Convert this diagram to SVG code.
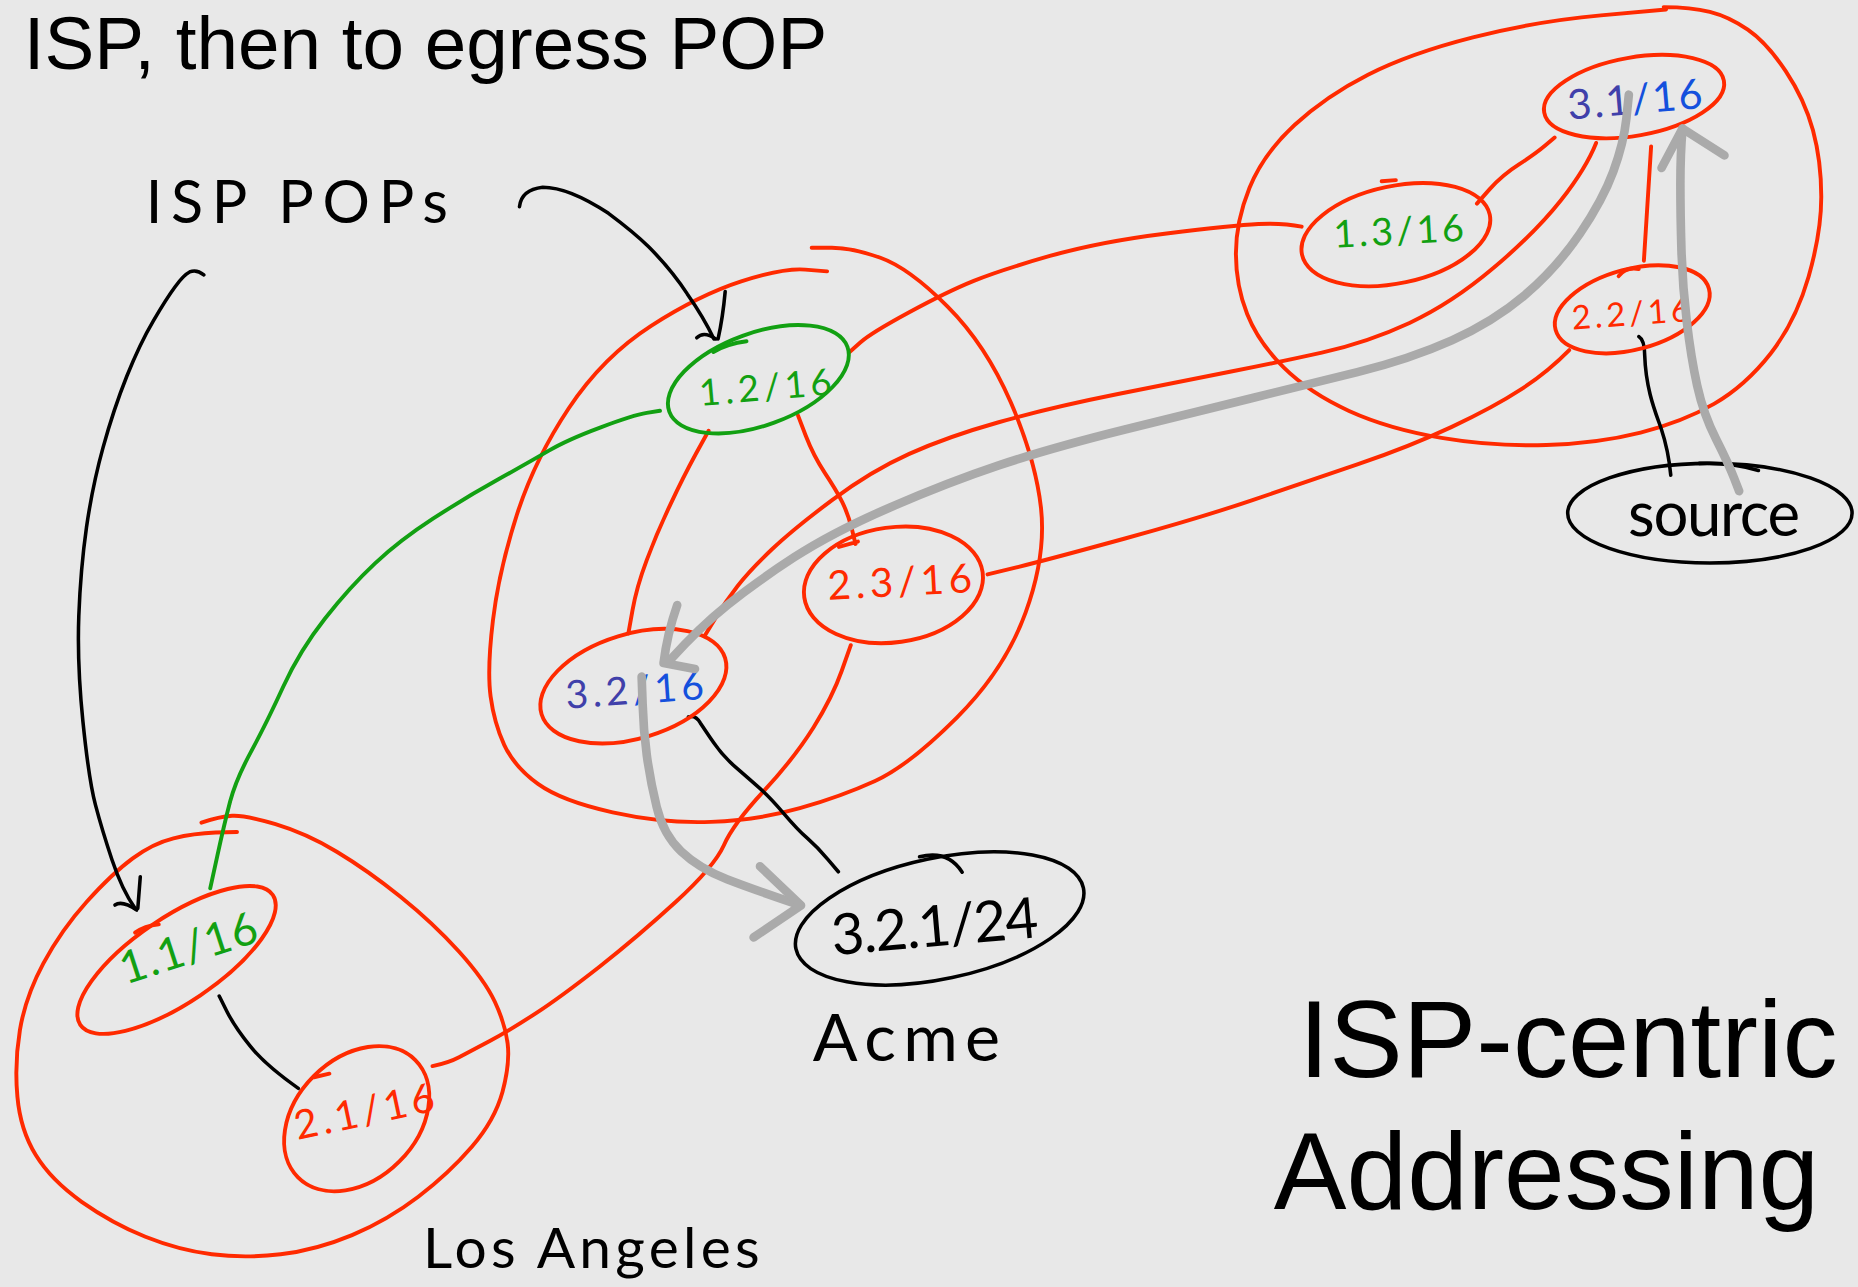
<svg xmlns="http://www.w3.org/2000/svg" width="1858" height="1287" viewBox="0 0 1858 1287">
  <style>
    .ln { fill: none; stroke-linecap: round; stroke-linejoin: round; stroke-width: 3.3; }
    .red { stroke: #ff2a00; }
    .grn { stroke: #12a012; }
    .blk { stroke: #000000; stroke-width: 3; }
    .flow { fill: none; stroke: #aaaaaa; stroke-width: 7.3; stroke-linecap: round; stroke-linejoin: round; }
    .hand { font-family: Lato, "Open Sans", "DejaVu Sans", sans-serif; font-weight: 400; }
    .print { font-family: "Liberation Sans", Arial, sans-serif; fill: #000000; }
    .tr { fill: #ff2a00; }
    .tg { fill: #12a012; }
    .tb { fill: #4040aa; }
    .tb2 { fill: #1450dd; }
    .tk { fill: #000000; }
  </style>
  <rect width="1858" height="1287" fill="#e8e8e8"/>
  <g transform="scale(1.18495,1.18508)">
    <!-- headings -->
    <text class="print" x="20" y="58" font-size="63">ISP, then to egress POP</text>
    <text class="print" x="1096" y="908.6" font-size="93">ISP-centric</text>
    <text class="print" x="1075" y="1020.5" font-size="92">Addressing</text>

    <!-- ISP regions (hand-drawn loops) -->
    <g id="region-los-angeles">
      <path class="ln red" d="M200,702 L182,702.5 Q163.6,703.2 146.4,707.4 Q129.2,711.6 112,724.3 Q94.7,737 73.2,760.9 Q51.7,784.8 36.6,812.9 Q21.5,841 16.8,869.2 Q12.1,897.3 14.7,925.5 Q17.2,953.6 30.2,974.7 Q43.1,995.8 68.9,1014.1 Q94.7,1032.3 122.7,1043.6 Q150.7,1054.8 178.7,1058.4 Q206.6,1061.9 236.8,1058.4 Q266.9,1054.8 297.1,1042.2 Q327.2,1029.5 353,1009.8 Q378.8,990.1 398.2,967.6 Q417.6,945.1 424.1,921.2 Q430.5,897.3 428.4,880.5 Q426.2,863.6 417.6,845.3 Q409,827 387.5,803.1 Q365.9,779.2 338,756.7 Q310,734.2 284.2,718.7 Q258.3,703.2 232.5,695.5 Q206.6,687.7 195.9,688.4 Q185.1,689.1 170,694.2"/>
      <text class="hand tk" x="357" y="1070" font-size="48" textLength="284">Los Angeles</text>
    </g>
    <g id="region-middle">
      <path class="ln red" d="M698,229 L679.5,227.5 Q661,226 625.5,237.5 Q590,249 549.5,275 Q509,301 480,344.5 Q451,388 436,435 Q421,482 416,523.5 Q411,565 414,587.5 Q417,610 425.5,628.5 Q434,647 454,661.5 Q474,676 517,685.5 Q560,695 600,693.5 Q640,692 675,682 Q710,672 738.5,659 Q767,646 807.5,605.5 Q848,565 865.5,517 Q883,469 878.5,428.5 Q874,388 853,339.5 Q832,291 799.5,258.5 Q767,226 743,217.5 Q719,209 702,209 L685,209"/>
    </g>
    <g id="region-east">
      <path class="ln red" d="M1406,8 L1351,13 Q1296,18 1243,31.5 Q1190,45 1154.5,63 Q1119,81 1092.5,105.5 Q1066,130 1054.5,158.5 Q1043,187 1043,214 Q1043,241 1052.5,265 Q1062,289 1083.5,310.3 Q1105,331.5 1138.5,346.8 Q1172,362 1216.5,369.5 Q1261,377 1305,375.5 Q1349,374 1384.5,365 Q1420,356 1446.5,340.8 Q1473,325.5 1494.3,298.3 Q1515.5,271 1526.3,233.5 Q1537,196 1537,166 Q1537,136 1530,110 Q1523,84 1507,60 Q1491,36 1475,25 Q1459,14 1443,10 Q1427,6 1404,6"/>
    </g>

    <!-- links between POPs and to the customer -->
    <g id="connectors">
      <path class="ln red" d="M717,297 L726,289 Q735,281 767.3,263.5 Q799.5,246 821.8,237 Q844,228 886,216 Q928,204 984.5,197 Q1041,190 1062,189 Q1083,188 1098.5,191.3"/>
      <path class="ln red" d="M595,536 L603.5,522 Q612,508 622.5,494.5 Q633,481 651.5,463.5 Q670,446 702.5,421.8 Q735,397.5 767.3,383 Q799.5,368.5 842.8,356.3 Q886,344 943.5,332.5 Q1001,321 1039,313.5 Q1077,306 1115.5,297.5 Q1154,289 1189.5,272.5 Q1225,256 1260.5,226 Q1296,196 1317.3,169 Q1338.5,142 1347,120.6"/>
      <path class="ln red" d="M598,363.5 L587.3,382.9 Q576.7,402.3 565.5,426.2 Q554.2,450.1 545.8,472.6 Q537.3,495.1 533.8,514.8 L530.3,534.5"/>
      <path class="ln red" d="M673.5,350.7 L680,367.7 Q686.5,384.6 696.2,399.2 Q705.8,413.7 710.7,423.4 Q715.5,433.1 718.8,446 L722,459 M708,461.5 L724,457"/>
      <path class="ln red" d="M833.4,484.7 L859.7,478.3 Q886,471.8 949.4,454.4 Q1012.7,437 1057,422 Q1101.2,406.9 1145.5,391.9 Q1189.8,376.8 1225.2,360.2 Q1260.6,343.6 1283.6,328.6 Q1306.6,313.5 1324.3,295.4"/>
      <path class="ln red" d="M718,544.4 L710.3,566.2 Q702.6,588 686.5,613.9 Q670.3,639.7 644.7,667.4 Q619,695 610.9,713.2 Q602.7,731.3 570.4,760.9 Q538.1,790.4 505.9,815.7 Q473.6,841 452.1,855.1 Q430.5,869.2 413.3,878.4 Q396,887.5 387.4,892.1 Q378.8,896.7 365,899.6"/>
      <path class="ln red" d="M1312,116 L1304,122.8 Q1296,129.6 1281.9,138.7 Q1267.7,147.7 1257,159.8 L1246.4,171.8"/>
      <path class="ln red" d="M1393.4,123.6 Q1390,175 1387.3,220"/>
      <path class="ln grn" d="M557,346.6 L545.8,348.4 Q534.5,350.2 506.4,360.8 Q478.2,371.3 462.8,380.5 Q447.3,389.6 420.6,404.4 Q393.8,419.2 365.7,437.5 Q337.6,455.7 316.5,475.4 Q295.4,495.1 274.3,521.9 Q253.2,548.6 239.1,579.3 Q225,610 212,634 Q199,658 194.2,676.4 Q189.4,694.8 183.4,722.2 L177.4,749.6"/>
      <path class="ln blk" d="M581,605 Q587,603 591,610 Q595,616 602.5,627 Q610,638 621.5,648 Q633,658 641.5,665.5 Q650,673 661.5,686.5 Q673,700 681.5,707.5 Q690,715 698.8,725.3 L707.5,735.6"/>
      <path class="ln blk" d="M185,840.5 L191.5,853.5 Q198,866.4 211,882.6 Q223.9,898.7 251.8,918.4"/>
      <path class="ln blk" d="M1383,284 Q1388,287 1388,300 C1389,330 1398,350 1402,362 Q1408,380 1410,401"/>
    </g>

    <!-- ISP POPs annotation -->
    <g id="annotation-pops">
      <text class="hand tk" x="123" y="188" font-size="50" textLength="255">ISP POPs</text>
      <path class="ln blk" d="M438.4,174.4 Q440,160 458,158 Q480,158 513.5,180 Q535,196 547.4,208.2 Q567,228 580,248 Q594,268 602.5,286"/>
      <path class="ln blk" d="M612,246 Q610,268 606,286 M588,285 Q594,279 604,286"/>
      <path class="ln blk" d="M172,232 Q166,227 160,229.5 Q155,232 147.8,241.9 Q140.5,251.7 129.3,270.9 Q118,290 107,317.5 Q96,345 87,377.5 Q78,410 73,445 Q68,480 66.5,520 Q65,560 70,609 Q75,658 80.5,679 Q86,700 94.5,725.5 Q103,751 114,766.5"/>
      <path class="ln blk" d="M118.4,739.8 L116.3,766.5 M97,763.7 Q103,759.5 115.4,767.9"/>
    </g>

    <!-- POP nodes -->
    <g id="node-1-1">
      <ellipse class="ln red" cx="149" cy="810" rx="98" ry="36" transform="rotate(-34 149 810)"/>
      <path class="ln red" d="M114,787 Q122,781 134,780"/>
      <text class="hand tg" x="106" y="831" font-size="38" textLength="120" transform="rotate(-18 106 831)">1.1/16</text>
    </g>
    <g id="node-2-1">
      <ellipse class="ln red" cx="301" cy="944" rx="70" ry="51" transform="rotate(-45 301 944)"/>
      <path class="ln red" d="M265,909 L278,906"/>
      <text class="hand tr" x="251" y="962" font-size="34" textLength="120" transform="rotate(-12 251 962)">2.1/16</text>
    </g>
    <g id="node-1-2">
      <ellipse class="ln grn" cx="640" cy="320" rx="80" ry="39" transform="rotate(-20 640 320)"/>
      <path class="ln grn" d="M602,297 Q614,290 630,288"/>
      <text class="hand tg" x="591" y="342.6" font-size="31" textLength="112" transform="rotate(-5 591 342.6)">1.2/16</text>
    </g>
    <g id="node-2-3">
      <ellipse class="ln red" cx="754" cy="493.5" rx="76" ry="48.5" transform="rotate(-8 754 493.5)"/>
      <text class="hand tr" x="699" y="506" font-size="34" textLength="122" transform="rotate(-3 699 506)">2.3/16</text>
    </g>
    <g id="node-3-2">
      <ellipse class="ln red" cx="534.5" cy="579" rx="81" ry="44" transform="rotate(-17 534.5 579)"/>
      <text class="hand" x="478" y="598" font-size="33" textLength="117" transform="rotate(-4 478 598)"><tspan class="tb">3.2</tspan><tspan class="tb2">/16</tspan></text>
    </g>
    <g id="node-1-3">
      <ellipse class="ln red" cx="1178" cy="198" rx="81" ry="41" transform="rotate(-12 1178 198)"/>
      <path class="ln red" d="M1166,153 L1178,152"/>
      <text class="hand tg" x="1126" y="209" font-size="32" textLength="110" transform="rotate(-3 1126 209)">1.3/16</text>
    </g>
    <g id="node-3-1">
      <ellipse class="ln red" cx="1379" cy="81.5" rx="77" ry="33" transform="rotate(-10 1379 81.5)"/>
      <text class="hand" x="1324" y="101" font-size="35" textLength="114" transform="rotate(-5 1324 101)"><tspan class="tb">3.1</tspan><tspan class="tb2">/16</tspan></text>
    </g>
    <g id="node-2-2">
      <ellipse class="ln red" cx="1377.5" cy="261" rx="67" ry="34" transform="rotate(-15 1377.5 261)"/>
      <path class="ln red" d="M1366,233 Q1372,225 1383,227"/>
      <text class="hand tr" x="1327" y="278" font-size="28" textLength="100" transform="rotate(-4 1327 278)">2.2/16</text>
    </g>

    <!-- customer and traffic source -->
    <g id="node-acme">
      <ellipse class="ln blk" cx="793" cy="775" rx="124" ry="51" transform="rotate(-12 793 775)"/>
      <path class="ln blk" d="M776,723 Q800,717 812,736"/>
      <text class="hand tk" x="703" y="806" font-size="48" textLength="175" transform="rotate(-5 703 806)">3.2.1/24</text>
      <text class="hand tk" x="686" y="895" font-size="56" textLength="158">Acme</text>
    </g>
    <g id="node-source">
      <ellipse class="ln blk" cx="1443" cy="433" rx="120" ry="42"/>
      <path class="ln blk" d="M1434,391 Q1460,390 1484,397"/>
      <text class="hand tk" x="1374" y="452" font-size="52" textLength="145">source</text>
    </g>

    <!-- traffic path -->
    <g id="flows">
      <path class="flow" d="M1467.7,414.4 L1463.3,403.1 Q1458.9,391.8 1448.3,370.7 Q1437.6,349.6 1432.3,325.5 Q1427,301.4 1423.5,271.3 Q1419.9,241.1 1419,211 Q1418.1,180.8 1418.1,155.2 Q1418.1,129.6 1419.9,108.5"/>
      <path class="flow" d="M1402.2,141.7 L1419.9,108.5 L1455.3,131.1"/>
      <path class="flow" d="M1374.6,79.9 L1372.5,100.3 Q1370.3,120.6 1361.5,144.7 Q1352.6,168.8 1333.2,197.4 Q1313.7,226 1287.2,248.7 Q1260.6,271.3 1225.2,287.2 Q1189.8,303 1145.5,314 Q1101.2,325 1057,335.8 Q1012.7,346.6 949.4,362.4 Q886,378.2 842.8,392.7 Q799.5,407.2 751.1,428.2 Q702.6,449.2 670.3,470.2 Q638,491.2 613.8,510.6 Q589.6,530 566,556.5"/>
      <path class="flow" d="M571.5,510.6 Q563,535 560,559.5 L586.5,564.5"/>
      <path class="flow" d="M541.5,571 L542.3,593.5 Q543,616 545.8,637 Q548.6,658 554.2,681 Q559.7,704 574.8,718.4 Q589.8,732.7 613.5,741.9 Q637.1,751 675,763.7"/>
      <path class="flow" d="M641.4,731 L676,764 L636,791"/>
    </g>
  </g>
</svg>
